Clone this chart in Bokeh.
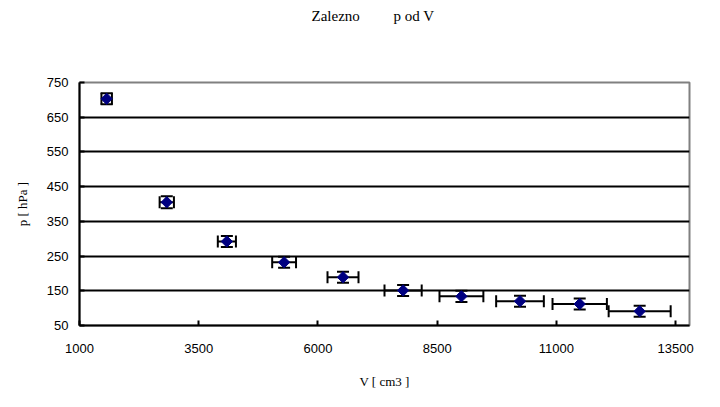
import numpy as np
from bokeh.plotting import figure
from bokeh.models import (ColumnDataSource, Whisker, TeeHead, FixedTicker, Range1d, Title)
from bokeh.embed import file_html
from bokeh.resources import INLINE

# data
title_text = "Zalezno\u00a0\u00a0\u00a0\u00a0\u00a0\u00a0\u00a0\u00a0\u00a0p od V"
x_label = "V [ cm3 ]"
y_label = "p [ hPa ]"
V = [1570, 2830, 4090, 5290, 6525, 7785, 9008, 10236, 11488, 12745]
P = [703, 405, 292, 232, 189, 151, 134, 120, 112, 91]
V_err = [110, 150, 190, 250, 325, 390, 460, 500, 570, 650]
P_err = [16, 17, 16, 16, 16, 16, 16, 16, 16, 16]
x_ticks = [1000, 3500, 6000, 8500, 11000, 13500]
y_ticks = [50, 150, 250, 350, 450, 550, 650, 750]

src = ColumnDataSource(dict(
    v=V, p=P,
    v_lo=[a - b for a, b in zip(V, V_err)], v_hi=[a + b for a, b in zip(V, V_err)],
    p_lo=[a - b for a, b in zip(P, P_err)], p_hi=[a + b for a, b in zip(P, P_err)],
))

p = figure(width=712, height=399, output_backend="svg", toolbar_location=None,
           x_range=Range1d(1000, 13790), y_range=Range1d(50, 750),
           min_border_left=79, min_border_right=23, min_border_top=82, min_border_bottom=74)
p.background_fill_color = "white"
p.border_fill_color = "white"
p.outline_line_color = "#808080"
p.outline_line_width = 2

p.title.text = title_text
p.title.text_font = "Liberation Serif"
p.title.text_font_size = "15px"
p.title.text_font_style = "normal"
p.title.text_color = "black"
p.title.align = "left"
p.title.offset = 232
p.title.vertical_align = "bottom"
p.title.standoff = 0

# blank spacer between frame and title (pushes title upward)
p.add_layout(Title(text="\u00a0", text_font_size="15px", standoff=40, text_color="white"), "above")

p.xgrid.grid_line_color = None
p.ygrid.grid_line_color = "black"
p.ygrid.grid_line_width = 2
p.ygrid.ticker = FixedTicker(ticks=y_ticks)

for ax in (p.xaxis[0], p.yaxis[0]):
    ax.axis_line_color = "black"
    ax.axis_line_width = 2
    ax.major_tick_line_color = "black"
    ax.major_tick_line_width = 2
    ax.major_tick_in = 5
    ax.major_tick_out = 0
    ax.minor_tick_line_color = None
    ax.major_label_text_font = "Liberation Sans"
    ax.major_label_text_font_size = "13px"
    ax.major_label_text_color = "black"
    ax.axis_label_text_font = "Liberation Serif"
    ax.axis_label_text_font_style = "normal"
    ax.axis_label_text_font_size = "13px"
    ax.axis_label_text_color = "black"

p.xaxis.ticker = FixedTicker(ticks=x_ticks)
p.yaxis.ticker = FixedTicker(ticks=y_ticks)
p.xaxis.axis_label = x_label
p.yaxis.axis_label = y_label
p.xaxis.major_label_standoff = 18
p.yaxis.major_label_standoff = 11
p.xaxis.axis_label_standoff = 18
p.yaxis.axis_label_standoff = 14

# error bars
p.add_layout(Whisker(source=src, base="v", lower="p_lo", upper="p_hi", dimension="height",
                     line_color="black", line_width=2,
                     lower_head=TeeHead(size=12, line_width=2, line_color="black"),
                     upper_head=TeeHead(size=12, line_width=2, line_color="black")))
p.add_layout(Whisker(source=src, base="p", lower="v_lo", upper="v_hi", dimension="width",
                     line_color="black", line_width=2,
                     lower_head=TeeHead(size=12, line_width=2, line_color="black"),
                     upper_head=TeeHead(size=12, line_width=2, line_color="black")))

p.scatter("v", "p", source=src, marker="square", angle=np.pi / 4, size=8,
          fill_color="#000080", line_color="#000080")

open("out.html", "w").write(file_html(p, INLINE))
